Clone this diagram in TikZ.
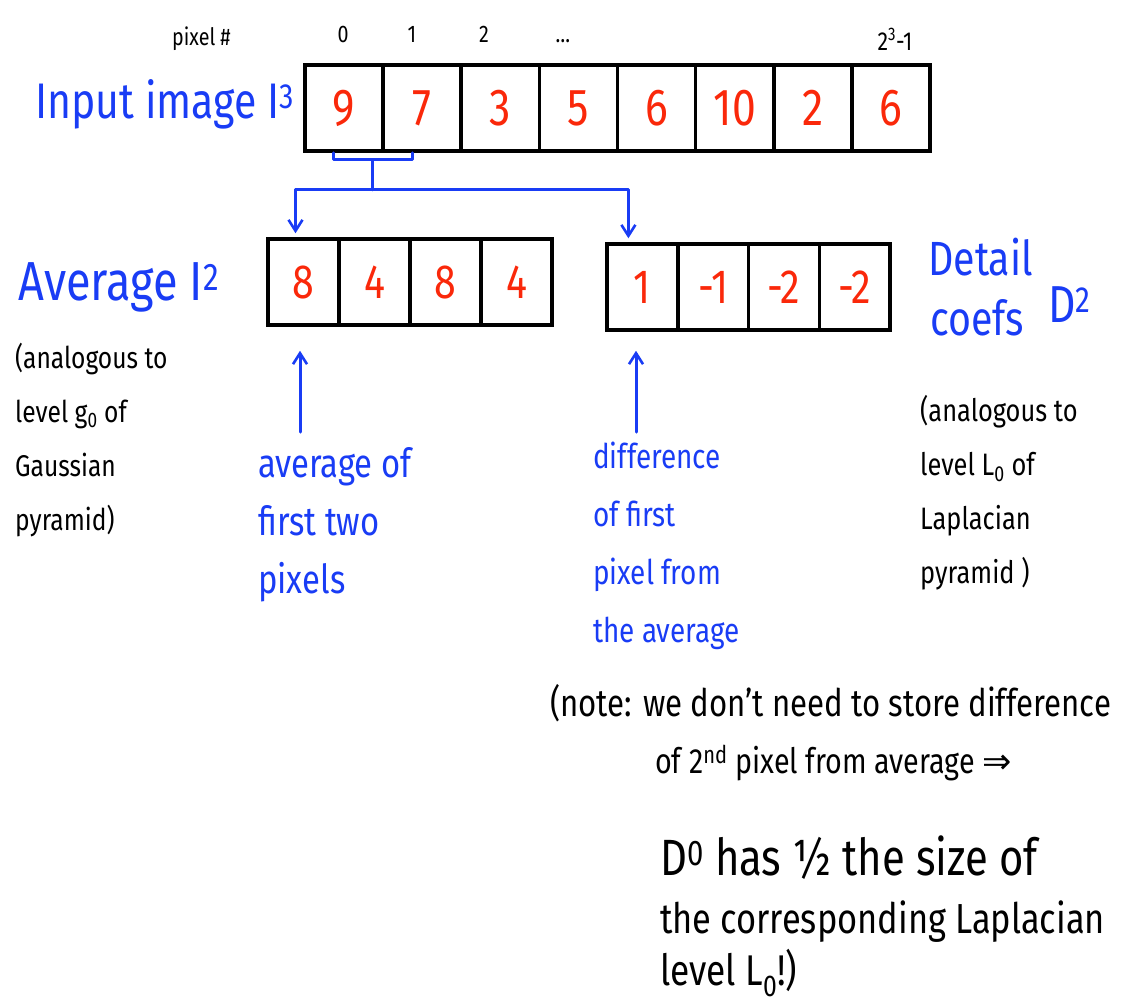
\documentclass[tikz,border=0pt]{standalone}
\usepackage{fontspec}
\setmainfont{Fira Sans}[FakeStretch=0.82]
\newfontfamily\symfont{DejaVu Sans}
\usetikzlibrary{arrows.meta}
\definecolor{inkblue}{RGB}{25,60,245}
\definecolor{inkred}{RGB}{250,40,10}
\newcommand{\fsz}[1]{\fontsize{#1}{1.2\dimexpr#1pt\relax}\selectfont}
\begin{document}
\begin{tikzpicture}[x=1pt,y=-1pt,
  txt/.style={inner sep=0pt, anchor=base west},
  bluetxt/.style={txt, text=inkblue},
  cellbox/.style={draw, line width=3.5pt, inner sep=0pt, minimum height=86pt,
    text=inkred, font=\fsz{48}},
  bluepen/.style={draw=inkblue, line width=3pt, line cap=round, line join=round},
  tip/.style={-{Straight Barb[length=11pt,width=14pt,line width=2.6pt]}},
  note/.style={txt, align=left, font=\fontsize{30}{54}\selectfont}]
\useasboundingbox (0,0) rectangle (1126,1007);

% pixel indices
\node[txt, font=\fsz{24}] (pixlab) at (172,45) {pixel \#};
\node[inner sep=0pt, anchor=base, font=\fsz{24}] (p0) at (343,42) {0};
\node[inner sep=0pt, anchor=base, font=\fsz{24}] (p1) at (412,42) {1};
\node[inner sep=0pt, anchor=base, font=\fsz{24}] (p2) at (484,42) {2};
\node[inner sep=0pt, anchor=base, font=\fsz{24}] (pdots) at (563,42) {\dots};
\node[inner sep=0pt, anchor=base, font=\fsz{26}] (plast) at (895,50) {2\textsuperscript{3}-1};

% input image row
\node[bluetxt, font=\fsz{50}] (inlab) at (35,118) {Input image I\textsuperscript{3}};
\foreach \v [count=\i from 0] in {9,7,3,5,6,10,2,6}
  \node[cellbox, minimum width=78.1pt, font=\fsz{52}] (t\i) at ({344.06+78.125*\i},108) {\v};

% averages row
\node[bluetxt, font=\fsz{55}] (avglab) at (18,300) {Average I\textsuperscript{2}};
\foreach \v [count=\i from 0] in {8,4,8,4}
  \node[cellbox, minimum width=71pt] (a\i) at ({303.5+71*\i},282) {\v};

% detail row
\foreach \v [count=\i from 0] in {1,-1,-2,-2}
  \node[cellbox, minimum width=70.75pt] (d\i) at ({642.4+70.75*\i},287) {\v};
\node[bluetxt, font=\fsz{48}] (detlab) at (928,275) {Detail};
\node[bluetxt, font=\fsz{48}] (coeflab) at (930,335) {coefs};
\node[bluetxt, font=\fsz{52}] (dlab) at (1048,322) {D\textsuperscript{2}};

% bracket joining the first two pixels, split towards both outputs
\draw[bluepen] ([xshift=-11pt]t0.south) -- ++(0,7) -| ([xshift=-10pt]t1.south);
\coordinate (bmid) at ([xshift=28pt,yshift=-7pt]t0.south);
\coordinate (split) at ([yshift=-30pt]bmid);
\draw[bluepen] (bmid) -- (split);
\draw[bluepen, tip] (split) -| ([xshift=-8pt,yshift=4pt]a0.north);
\draw[bluepen, tip] (split) -| ([xshift=-14pt,yshift=4pt]d0.north);

% explanatory arrows
\coordinate (avgtail) at (300,432);
\coordinate (diftail) at (636,432);
\draw[bluepen, tip] (avgtail) -- ([xshift=-3.5pt,yshift=-24pt]a0.south);
\draw[bluepen, tip] (diftail) -- ([xshift=-6.4pt,yshift=-19pt]d0.south);

% side notes (anchored on the baseline of their last line)
\node[note] (gnote) at (15,530) {(analogous to\\level g\textsubscript{0} of\\Gaussian\\pyramid)};
\node[note, font=\fontsize{31}{54}\selectfont] (lnote) at (920,583) {(analogous to\\level L\textsubscript{0} of\\Laplacian\\pyramid )};

\node[bluetxt, align=left, font=\fontsize{40}{58}\selectfont] (avgnote) at (258,593)
  {average of\\first two\\pixels};
\node[bluetxt, align=left, font=\fontsize{34}{58}\selectfont] (difnote) at (593,642)
  {difference\\of first\\pixel from\\the average};

% closing remark
\node[txt, font=\fsz{38}] (r1) at (550,716) {(note: we don't need to store difference};
\node[txt, font=\fsz{35}] (r2) at (655,773) {of 2\textsuperscript{nd} pixel from average {\symfont ⇒}};
\node[txt, font=\fsz{51}] (r3) at (660,875) {D\textsuperscript{0} has ½ the size of};
\node[txt, font=\fsz{42}] (r4) at (660,933) {the corresponding Laplacian};
\node[txt, font=\fsz{43}] (r5) at (660,985) {level L\textsubscript{0}!)};
\end{tikzpicture}
\end{document}
